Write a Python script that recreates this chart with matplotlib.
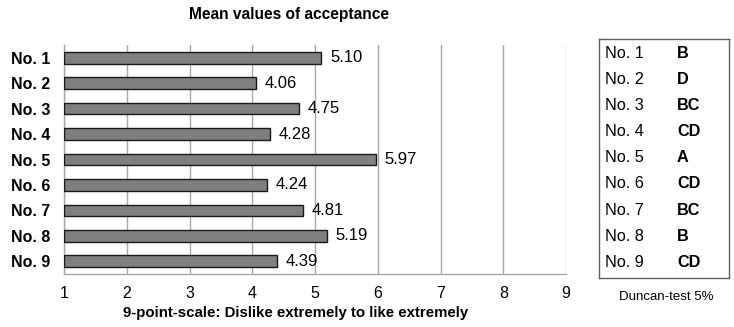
import numpy as np
import matplotlib
matplotlib.use("Agg")
import matplotlib.pyplot as plt

plt.rcParams['font.family'] = ['Liberation Sans', 'DejaVu Sans']

samples = ["No. 1", "No. 2", "No. 3", "No. 4", "No. 5", "No. 6", "No. 7", "No. 8", "No. 9"]
means = [5.10, 4.06, 4.75, 4.28, 5.97, 4.24, 4.81, 5.19, 4.39]
duncan = ["B", "D", "BC", "CD", "A", "CD", "BC", "B", "CD"]
xticks = [1, 2, 3, 4, 5, 6, 7, 8, 9]

W, H = 734, 327
fig = plt.figure(figsize=(W / 100, H / 100), dpi=100)
ax = fig.add_axes([64 / W, 1 - 274 / H, 502 / W, 229 / H])

pos = np.arange(len(samples))
base = 1
ax.barh(pos, np.array(means) - base, left=base, height=0.46,
        color="#7f7f7f", edgecolor="#1a1a1a", linewidth=1.0, zorder=3)
for p, v in zip(pos, means):
    ax.text(v + 0.14, p, f"{v:.2f}", va="center", ha="left", fontsize=12, zorder=4)

ax.set_xlim(1, 9)
ax.set_ylim(8.5, -0.5)
ax.set_xticks(xticks)
ax.set_xticklabels([str(t) for t in xticks], fontsize=11.5)
ax.set_yticks(pos)
ax.set_yticklabels(samples, fontsize=11.5, fontweight="bold")
ax.tick_params(axis="x", length=0, pad=9)
ax.tick_params(axis="y", length=0, pad=10)
ax.xaxis.grid(True, color="#a8a8a8", linewidth=1.0, zorder=0)
for side in ["top", "right"]:
    ax.spines[side].set_visible(False)
for side in ["left", "bottom"]:
    ax.spines[side].set_color("#a8a8a8")
    ax.spines[side].set_linewidth(1.0)

fig.text(296 / W, 1 - 313 / H, "9-point-scale: Dislike extremely to like extremely",
         ha="center", va="center", fontsize=10.8, fontweight="bold")
fig.text(289 / W, 1 - 15 / H, "Mean values of acceptance", ha="center", va="center",
         fontsize=11.2, fontweight="bold")

# Duncan grouping box on the right
bx = fig.add_axes([599 / W, 1 - 278 / H, 130 / W, 239 / H])
bx.set_xticks([])
bx.set_yticks([])
for s in bx.spines.values():
    s.set_color("#606060")
    s.set_linewidth(1.0)
for i, (name, grp) in enumerate(zip(samples, duncan)):
    yc = 53 + i * 26.2
    yf = (278 - yc) / 239
    bx.text(6 / 130, yf, name, ha="left", va="center", fontsize=11.7,
            transform=bx.transAxes)
    bx.text(78 / 130, yf, grp, ha="left", va="center", fontsize=11.7,
            fontweight="bold", transform=bx.transAxes)

fig.text(666 / W, 1 - 297 / H, "Duncan-test 5%", ha="center", va="center", fontsize=9.5)

fig.savefig("out.png", dpi=100)
